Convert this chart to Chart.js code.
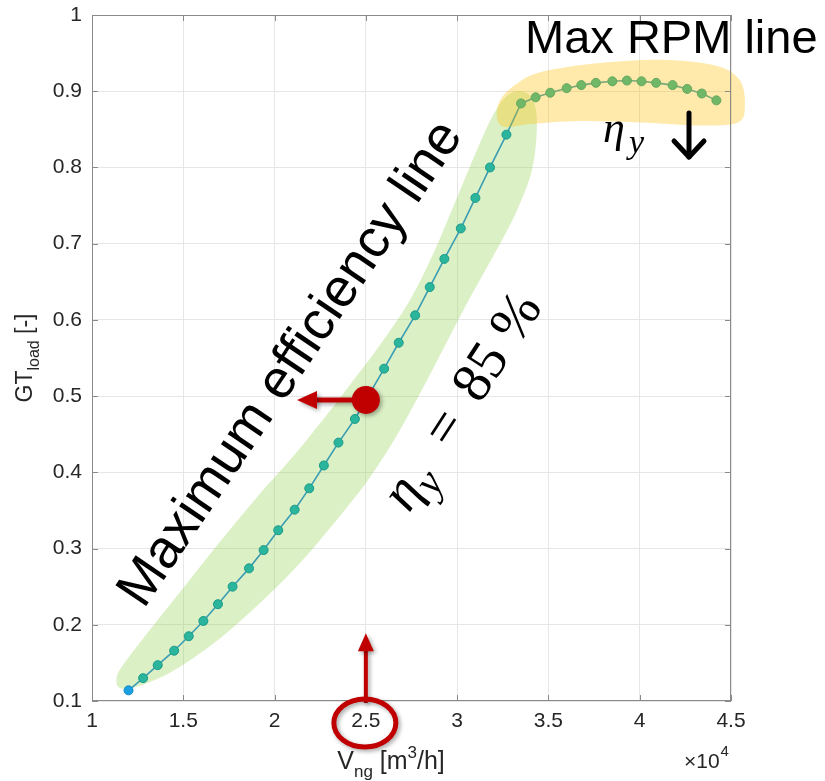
<!DOCTYPE html>
<html><head><meta charset="utf-8">
<script src="https://cdn.jsdelivr.net/npm/chart.js@4.4.1/dist/chart.umd.min.js"></script>
<style>html,body{margin:0;padding:0;background:#fff;}canvas{display:block;}</style>
</head><body>
<canvas id="c" width="825" height="781" style="width:825px;height:781px"></canvas>
<script>
// Natural gas flow (x 10^4 m3/h) and GT load [-]
const flowRate = [1.20,1.28,1.36,1.45,1.53,1.61,1.69,1.77,1.86,1.94,
                  2.02,2.11,2.19,2.27,2.35,2.44,2.52,2.60,2.68,2.77,
                  2.85,2.93,3.02,3.10,3.18,3.27,3.35,3.43,3.51,3.60,
                  3.68,3.76,3.85,3.93,4.01,4.09,4.18,4.26,4.34,4.42];
const gtLoad   = [0.114,0.130,0.147,0.166,0.185,0.205,0.227,0.250,0.274,0.298,
                  0.324,0.351,0.379,0.409,0.439,0.470,0.503,0.536,0.570,0.606,
                  0.643,0.680,0.720,0.760,0.800,0.843,0.884,0.892,0.898,0.904,
                  0.908,0.911,0.913,0.914,0.913,0.911,0.908,0.903,0.897,0.888];
const xTicks = [1,1.5,2,2.5,3,3.5,4,4.5];
const yTicks = [0.1,0.2,0.3,0.4,0.5,0.6,0.7,0.8,0.9,1];

// decoration outlines (data units)
const greenBand = [[1.137,0.133],[1.197,0.156],[1.290,0.185],[1.482,0.243],[1.718,0.314],[1.920,0.372],
  [2.095,0.419],[2.265,0.469],[2.413,0.515],[2.577,0.567],[2.742,0.626],[2.879,0.692],[3.016,0.770],
  [3.125,0.832],[3.207,0.873],[3.279,0.895],[3.355,0.900],[3.416,0.888],[3.437,0.856],[3.410,0.797],
  [3.317,0.738],[3.191,0.681],[3.070,0.629],[2.950,0.574],[2.813,0.511],[2.671,0.449],[2.512,0.390],
  [2.331,0.335],[2.128,0.278],[1.909,0.226],[1.674,0.177],[1.455,0.141],[1.263,0.120],[1.153,0.117]];
const yellowBand = [[3.218,0.865],[3.235,0.888],[3.317,0.908],[3.454,0.925],[3.782,0.937],[4.149,0.941],
  [4.423,0.933],[4.549,0.914],[4.576,0.881],[4.538,0.859],[4.335,0.855],[4.002,0.859],[3.673,0.861],
  [3.399,0.857],[3.262,0.853]];

const FONT = "'Liberation Sans', Arial, Helvetica, sans-serif";
const SERIF = "'Liberation Serif', 'Times New Roman', serif";
const RED = '#c00000';

function splineClosed(ctx, pts){
  const n = pts.length, P = i => pts[(i+n)%n];
  ctx.beginPath(); ctx.moveTo(pts[0][0], pts[0][1]);
  for(let i=0;i<n;i++){
    const p0=P(i-1), p1=P(i), p2=P(i+1), p3=P(i+2);
    ctx.bezierCurveTo(p1[0]+(p2[0]-p0[0])/6, p1[1]+(p2[1]-p0[1])/6,
                      p2[0]-(p3[0]-p1[0])/6, p2[1]-(p3[1]-p1[1])/6, p2[0], p2[1]);
  }
  ctx.closePath();
}
function toPx(chart, arr){ const xs=chart.scales.x, ys=chart.scales.y; return arr.map(p=>[xs.getPixelForValue(p[0]), ys.getPixelForValue(p[1])]); }

const decor = {
  id:'decor',
  beforeDatasetsDraw(chart){
    const ctx = chart.ctx; ctx.save();
    splineClosed(ctx, toPx(chart, greenBand));
    ctx.fillStyle = 'rgba(146,208,80,0.33)'; ctx.fill();
    ctx.restore();
  },
  afterDatasetsDraw(chart){
    const ctx = chart.ctx; ctx.save();
    splineClosed(ctx, toPx(chart, yellowBand));
    ctx.fillStyle = 'rgba(255,192,0,0.33)'; ctx.fill();
    ctx.restore();
  },
  afterDraw(chart){
    const ctx = chart.ctx, a = chart.chartArea, xs = chart.scales.x, ys = chart.scales.y;
    const X = v=>xs.getPixelForValue(v), Y = v=>ys.getPixelForValue(v);
    ctx.save();
    // frame and inward ticks
    ctx.strokeStyle = '#8a8a8a'; ctx.lineWidth = 1;
    ctx.strokeRect(a.left+0.5, a.top+0.5, a.right-a.left-1, a.bottom-a.top-1);
    ctx.beginPath();
    xTicks.forEach(v=>{ const p=Math.round(X(v))+0.5; ctx.moveTo(p,a.bottom); ctx.lineTo(p,a.bottom-6); ctx.moveTo(p,a.top); ctx.lineTo(p,a.top+6); });
    yTicks.forEach(v=>{ const p=Math.round(Y(v))+0.5; ctx.moveTo(a.left,p); ctx.lineTo(a.left+6,p); ctx.moveTo(a.right,p); ctx.lineTo(a.right-6,p); });
    ctx.stroke();

    // axis titles
    ctx.fillStyle = '#262626'; ctx.textBaseline = 'alphabetic'; ctx.textAlign = 'left';
    const parts = [['V',25,0],['ng',17,8],[' [m',25,0],['3',17,-11],['/h]',25,0]];
    let cx = X(1.1) + 227; const by = 769;
    parts.forEach(p=>{ ctx.font = p[1]+'px '+FONT; ctx.fillText(p[0], cx, by+p[2]); cx += ctx.measureText(p[0]).width; });
    ctx.font = '21px '+FONT; ctx.fillText('\u00d710', 684, 768);
    const w10 = ctx.measureText('\u00d710').width;
    ctx.font = '15px '+FONT; ctx.fillText('4', 684+w10+1, 756);
    ctx.save();
    const yparts = [['GT',23,0],['load',16,7],[' [-]',23,0]];
    let th = 0; yparts.forEach(p=>{ ctx.font = p[1]+'px '+FONT; th += ctx.measureText(p[0]).width; });
    ctx.translate(32, (a.top+a.bottom)/2 + th/2); ctx.rotate(-Math.PI/2);
    let cy = 0;
    yparts.forEach(p=>{ ctx.font = p[1]+'px '+FONT; ctx.fillText(p[0], cy, p[2]); cy += ctx.measureText(p[0]).width; });
    ctx.restore();

    // red annotations
    ctx.save();
    ctx.shadowColor = 'rgba(0,0,0,0.35)'; ctx.shadowBlur = 4; ctx.shadowOffsetX = 2; ctx.shadowOffsetY = 2;
    ctx.strokeStyle = RED; ctx.fillStyle = RED;
    const dX = X(2.5), dY = Y(0.495), tipX = X(2.123);
    ctx.lineWidth = 5; ctx.beginPath(); ctx.moveTo(dX, dY); ctx.lineTo(tipX+16, dY); ctx.stroke();
    ctx.beginPath(); ctx.moveTo(tipX, dY); ctx.lineTo(tipX+20, dY-9); ctx.lineTo(tipX+20, dY+9); ctx.closePath(); ctx.fill();
    ctx.beginPath(); ctx.arc(dX, dY, 14, 0, Math.PI*2); ctx.fill();
    const vX = X(2.5), tipY = Y(0.189);
    ctx.lineWidth = 4; ctx.beginPath(); ctx.moveTo(vX, a.bottom+2); ctx.lineTo(vX, tipY+14); ctx.stroke();
    ctx.beginPath(); ctx.moveTo(vX, tipY); ctx.lineTo(vX-8, tipY+18); ctx.lineTo(vX+8, tipY+18); ctx.closePath(); ctx.fill();
    ctx.lineWidth = 5; ctx.beginPath(); ctx.ellipse(vX-1, Y(0.0711), 31, 24, 0, 0, Math.PI*2); ctx.stroke();
    ctx.restore();

    // texts
    ctx.fillStyle = '#000';
    ctx.font = '47px '+FONT; ctx.fillText('Max RPM line', X(3.372), Y(0.950));
    ctx.save();
    ctx.translate(X(1.283), Y(0.2196)); ctx.rotate(-56*Math.PI/180);
    ctx.font = '54px '+FONT; ctx.fillText('Maximum efficiency line', 0, 0);
    ctx.restore();
    ctx.save();
    ctx.translate(X(2.736), Y(0.3455)); ctx.rotate(-57*Math.PI/180);
    ctx.font = 'italic 56px '+SERIF; ctx.fillText('\u03b7', 0, 0);
    ctx.font = 'italic 42px '+SERIF; ctx.fillText('y', 28, 13);
    ctx.font = '56px '+SERIF; ctx.fillText('=', 76, 0); ctx.fillText('85', 130, 0); ctx.fillText('%', 200, 0);
    ctx.restore();
    ctx.font = 'italic 44px '+SERIF; ctx.fillText('\u03b7', X(3.799), Y(0.8334));
    ctx.font = 'italic 34px '+SERIF; ctx.fillText('y', X(3.799)+26, Y(0.8334)+11);
    const ax = X(4.27), ay1 = Y(0.8714), ay2 = Y(0.8137);
    ctx.strokeStyle = '#000'; ctx.lineWidth = 5; ctx.lineCap = 'round'; ctx.lineJoin = 'round';
    ctx.beginPath(); ctx.moveTo(ax, ay1); ctx.lineTo(ax, ay2); ctx.stroke();
    ctx.beginPath(); ctx.moveTo(ax-15, ay2-16); ctx.lineTo(ax, ay2); ctx.lineTo(ax+15, ay2-16); ctx.stroke();
    ctx.restore();
  }
};

const fmt = v => String(Number(v.toFixed(2)));
new Chart(document.getElementById('c'), {
  type: 'line',
  data: { datasets: [{
    data: flowRate.map((x,i)=>({x, y: gtLoad[i]})),
    borderColor: '#3a9db3', borderWidth: 1.6,
    pointRadius: 4.5, pointBorderWidth: 1,
    pointBackgroundColor: c => c.dataIndex === 0 ? '#1a9fe0' : '#2ab59c',
    pointBorderColor: c => c.dataIndex === 0 ? '#1387c4' : '#1c9a8a',
    tension: 0, clip: false
  }]},
  options: {
    responsive: false, animation: false, devicePixelRatio: 1,
    layout: { padding: { left: 0, top: 15, right: 94, bottom: 0 } },
    plugins: { legend: { display: false }, tooltip: { enabled: false } },
    scales: {
      x: { type: 'linear', min: 1, max: 4.5,
        afterBuildTicks: s => { s.ticks = xTicks.map(v=>({value:v})); },
        afterFit: s => { s.height = 80; s.paddingLeft = 0; s.paddingRight = 0; },
        ticks: { callback: fmt, color: '#262626', font: { family: FONT, size: 21 }, padding: 8, maxRotation: 0 },
        grid: { color: '#e6e6e6', drawTicks: false }, border: { display: false } },
      y: { type: 'linear', min: 0.1, max: 1,
        afterBuildTicks: s => { s.ticks = yTicks.map(v=>({value:v})); },
        afterFit: s => { s.width = 92; s.paddingTop = 0; s.paddingBottom = 0; },
        ticks: { callback: fmt, color: '#262626', font: { family: FONT, size: 21 }, padding: 10 },
        grid: { color: '#e6e6e6', drawTicks: false }, border: { display: false } }
    }
  },
  plugins: [decor]
});
</script>
</body></html>
